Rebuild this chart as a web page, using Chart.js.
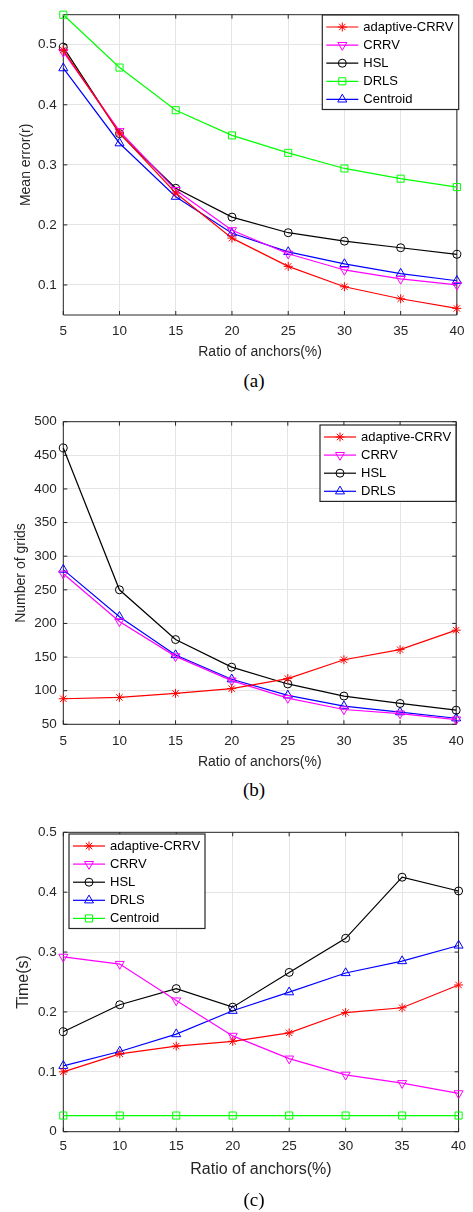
<!DOCTYPE html>
<html>
<head>
<meta charset="utf-8">
<title>Anchor ratio comparison</title>
<script src="https://cdn.jsdelivr.net/npm/chart.js@4.4.1/dist/chart.umd.min.js"></script>
<style>
  body { margin: 0; background: #fff; width: 473px; height: 1212px; position: relative; overflow: hidden; }
  canvas { position: absolute; left: 0; }
  .cap { position: absolute; left: 0; width: 508px; text-align: center; line-height: 20px;
         font-family: 'Liberation Serif', 'Times New Roman', serif; font-size: 19px; color: #000; }
</style>
</head>
<body>
<canvas id="chartA" width="473" height="368" style="top:0px"></canvas>
<div class="cap" style="top:371px">(a)</div>
<canvas id="chartB" width="473" height="380" style="top:395px"></canvas>
<div class="cap" style="top:780px">(b)</div>
<canvas id="chartC" width="473" height="390" style="top:800px"></canvas>
<div class="cap" style="top:1190px">(c)</div>

<script>
// ratio of anchors (%) on the x axis
const ratios = [5, 10, 15, 20, 25, 30, 35, 40];
const xTicks = [5, 10, 15, 20, 25, 30, 35, 40];

// (a) mean error
const errAdaptive = [0.491, 0.353, 0.253, 0.178, 0.131, 0.097, 0.077, 0.061];
const errCRRV     = [0.488, 0.356, 0.258, 0.191, 0.152, 0.125, 0.110, 0.100];
const errHSL      = [0.496, 0.352, 0.261, 0.213, 0.187, 0.173, 0.162, 0.151];
const errDRLS     = [0.550, 0.462, 0.391, 0.349, 0.320, 0.294, 0.277, 0.263];
const errCentroid = [0.461, 0.336, 0.247, 0.186, 0.155, 0.135, 0.119, 0.107];
const errTicks = [0.1, 0.2, 0.3, 0.4, 0.5];

// (b) number of grids
const gridsAdaptive = [88, 90, 96, 103, 118, 146, 161, 190];
const gridsCRRV     = [274, 203, 151, 115, 89, 72, 66, 57];
const gridsHSL      = [461, 250, 176, 135, 110, 92, 81, 71];
const gridsDRLS     = [280, 210, 153, 117, 93, 77, 68, 59];
const gridsTicks = [50, 100, 150, 200, 250, 300, 350, 400, 450, 500];

// (c) running time
const timeAdaptive = [0.100, 0.130, 0.143, 0.151, 0.165, 0.199, 0.207, 0.245];
const timeCRRV     = [0.292, 0.280, 0.219, 0.160, 0.122, 0.095, 0.081, 0.064];
const timeHSL      = [0.167, 0.212, 0.239, 0.208, 0.266, 0.323, 0.425, 0.402];
const timeDRLS     = [0.110, 0.134, 0.163, 0.202, 0.233, 0.265, 0.285, 0.311];
const timeCentroid = [0.027, 0.027, 0.027, 0.027, 0.027, 0.027, 0.027, 0.027];
const timeTicks = [0, 0.1, 0.2, 0.3, 0.4, 0.5];

// marker styles (matlab-like: '*', 'v', 'o', 's', '^')
const STAR   = { color: '#ff0000', pointStyle: 'star', radius: 4.5 };
const DOWN   = { color: '#ff00ff', pointStyle: 'triangle', rotation: 180, radius: 5.2 };
const CIRCLE = { color: '#000000', pointStyle: 'circle', radius: 4 };
const SQUARE = { color: '#00ff00', pointStyle: 'rect', radius: 5 };
const UP     = { color: '#0000ff', pointStyle: 'triangle', radius: 5.2 };

const AXIS = '#262626';
const SANS = "'Liberation Sans', Arial, sans-serif";

function line(label, values, m) {
  return {
    label: label,
    data: values.map((v, i) => ({ x: ratios[i], y: v })),
    marker: m,
    borderColor: m.color,
    backgroundColor: m.color,
    borderWidth: 1.2,
    pointStyle: m.pointStyle,
    pointRotation: m.rotation || 0,
    pointRadius: m.radius,
    pointHoverRadius: m.radius,
    pointBorderColor: m.color,
    pointBackgroundColor: 'rgba(0,0,0,0)',
    pointBorderWidth: 1,
    tension: 0,
    fill: false,
    clip: false
  };
}

// axes box with inward ticks on all four sides
const frame = {
  id: 'frame',
  beforeDatasetsDraw(chart) {
    const { ctx, chartArea: a, scales } = chart;
    const x = scales.x, y = scales.y;
    ctx.save();
    ctx.strokeStyle = AXIS;
    ctx.lineWidth = 1;
    ctx.beginPath();
    ctx.rect(a.left, a.top, a.right - a.left, a.bottom - a.top);
    x.ticks.forEach(t => {
      const px = x.getPixelForValue(t.value);
      ctx.moveTo(px, a.bottom); ctx.lineTo(px, a.bottom - 4);
      ctx.moveTo(px, a.top); ctx.lineTo(px, a.top + 4);
    });
    y.ticks.forEach(t => {
      const py = y.getPixelForValue(t.value);
      ctx.moveTo(a.left, py); ctx.lineTo(a.left + 4, py);
      ctx.moveTo(a.right, py); ctx.lineTo(a.right - 4, py);
    });
    ctx.stroke();
    ctx.restore();
  }
};

// boxed legend inside the plot, line sample + marker
const boxLegend = {
  id: 'boxLegend',
  afterDraw(chart, args, opts) {
    const ctx = chart.ctx;
    const sets = chart.data.datasets;
    const rowH = 18.1;
    const h = sets.length * rowH + 4;
    ctx.save();
    ctx.fillStyle = '#fff';
    ctx.fillRect(opts.left, opts.top, opts.width, h);
    ctx.strokeStyle = AXIS;
    ctx.lineWidth = 1.2;
    ctx.strokeRect(opts.left, opts.top, opts.width, h);
    ctx.font = '13px ' + SANS;
    ctx.textBaseline = 'middle';
    sets.forEach((ds, i) => {
      const m = ds.marker;
      const cy = opts.top + 12 + i * rowH;
      ctx.strokeStyle = m.color;
      ctx.lineWidth = 1.2;
      ctx.beginPath();
      ctx.moveTo(opts.left + 4, cy);
      ctx.lineTo(opts.left + 36, cy);
      ctx.stroke();
      ctx.lineWidth = 1;
      ctx.fillStyle = 'rgba(0,0,0,0)';
      Chart.helpers.drawPoint(ctx, {
        pointStyle: m.pointStyle, rotation: m.rotation || 0, radius: m.radius, borderWidth: 1
      }, opts.left + 20, cy);
      ctx.fillStyle = '#000';
      ctx.fillText(ds.label, opts.left + 41, cy + 0.5);
    });
    ctx.restore();
  }
};

function makeChart(id, c) {
  const canvas = document.getElementById(id);
  return new Chart(canvas, {
    type: 'line',
    data: { datasets: c.datasets },
    plugins: [frame, boxLegend],
    options: {
      responsive: false,
      animation: false,
      events: [],
      layout: { padding: { left: 0, right: 9.7, top: c.padTop, bottom: 0 } },
      plugins: {
        legend: { display: false },
        tooltip: { enabled: false },
        boxLegend: c.legend
      },
      scales: {
        x: {
          type: 'linear', min: 5, max: 40,
          afterBuildTicks: s => { s.ticks = xTicks.map(v => ({ value: v })); },
          afterFit: s => { s.height = c.xHeight; },
          grid: { color: '#e4e4e4', drawTicks: false },
          border: { display: false },
          ticks: { autoSkip: false, maxRotation: 0, padding: c.xPad, color: AXIS,
                   font: { family: SANS, size: 13.5 }, callback: v => String(v) },
          title: { display: true, text: 'Ratio of anchors(%)', color: AXIS,
                   font: { family: SANS, size: c.titleSize },
                   padding: { top: 0, bottom: c.xTitlePad } }
        },
        y: {
          type: 'linear', min: c.yMin, max: c.yMax,
          afterBuildTicks: s => { s.ticks = c.yTicks.map(v => ({ value: v })); },
          afterFit: s => { s.width = 63.3; },
          grid: { color: '#e4e4e4', drawTicks: false },
          border: { display: false },
          ticks: { autoSkip: false, padding: 6.6, color: AXIS,
                   font: { family: SANS, size: 13.5 }, callback: v => String(v) },
          title: { display: true, text: c.yTitle, color: AXIS,
                   font: { family: SANS, size: c.titleSize },
                   padding: { top: c.yTitlePad, bottom: 0 } }
        }
      }
    }
  });
}

makeChart('chartA', {
  datasets: [
    line('adaptive-CRRV', errAdaptive, STAR),
    line('CRRV', errCRRV, DOWN),
    line('HSL', errHSL, CIRCLE),
    line('DRLS', errDRLS, SQUARE),
    line('Centroid', errCentroid, UP)
  ],
  padTop: 10.7, xHeight: 53, xPad: 8.6, xTitlePad: 7.9,
  yMin: 0.05, yMax: 0.55, yTicks: errTicks, yTitle: 'Mean error(r)', yTitlePad: 17.6,
  titleSize: 14,
  legend: { left: 322.3, top: 15, width: 136.4 }
});

makeChart('chartB', {
  datasets: [
    line('adaptive-CRRV', gridsAdaptive, STAR),
    line('CRRV', gridsCRRV, DOWN),
    line('HSL', gridsHSL, CIRCLE),
    line('DRLS', gridsDRLS, UP)
  ],
  padTop: 26.7, xHeight: 50.7, xPad: 9.3, xTitlePad: 4.9,
  yMin: 50, yMax: 500, yTicks: gridsTicks, yTitle: 'Number of grids', yTitlePad: 13,
  titleSize: 14,
  legend: { left: 320, top: 30, width: 136 }
});

makeChart('chartC', {
  datasets: [
    line('adaptive-CRRV', timeAdaptive, STAR),
    line('CRRV', timeCRRV, DOWN),
    line('HSL', timeHSL, CIRCLE),
    line('DRLS', timeDRLS, UP),
    line('Centroid', timeCentroid, SQUARE)
  ],
  padTop: 32.3, xHeight: 58.3, xPad: 6.9, xTitlePad: 10.4,
  yMin: 0, yMax: 0.5, yTicks: timeTicks, yTitle: 'Time(s)', yTitlePad: 14.4,
  titleSize: 16,
  legend: { left: 69, top: 34, width: 136 }
});
</script>
</body>
</html>
